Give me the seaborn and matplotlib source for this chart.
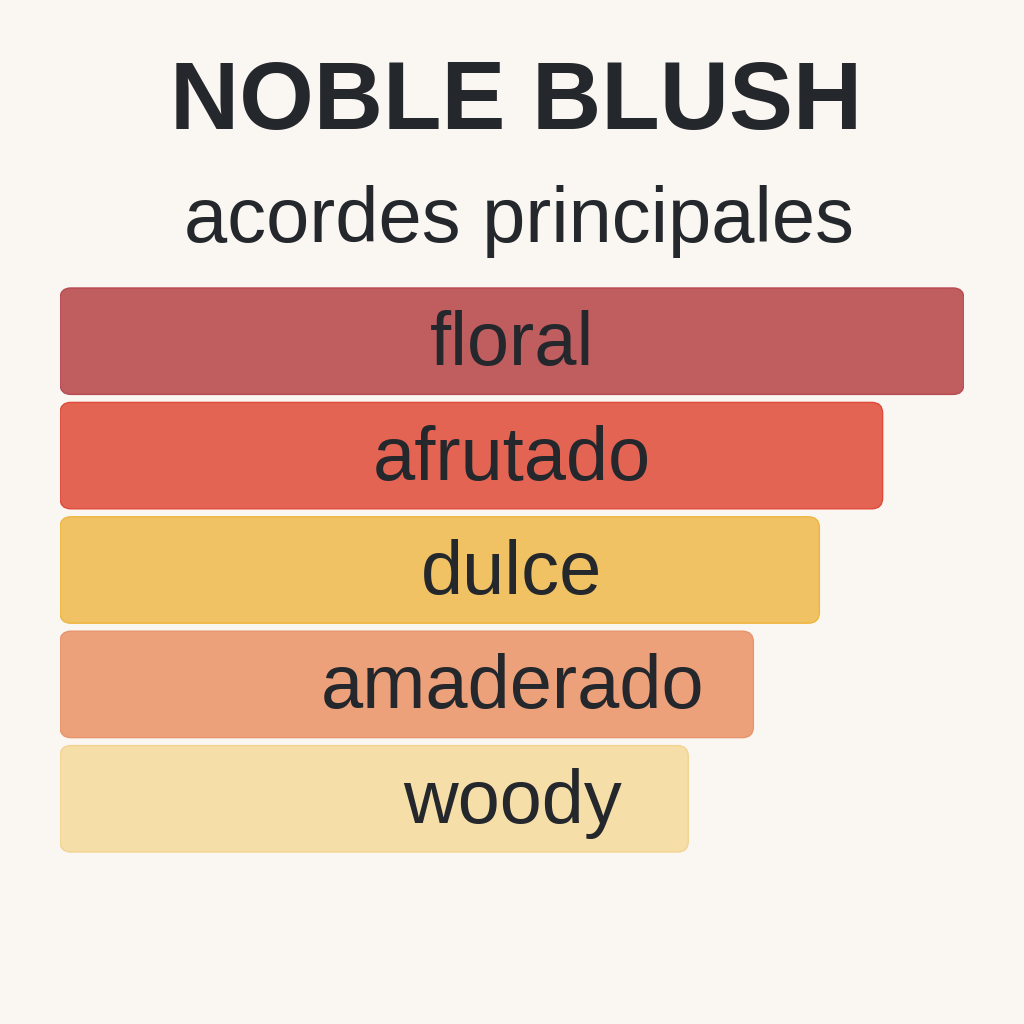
import matplotlib
matplotlib.use("Agg")
import matplotlib.pyplot as plt
import seaborn as sns
import pandas as pd
from matplotlib.patches import FancyBboxPatch

accords = ["floral", "afrutado", "dulce", "amaderado", "woody"]
strength = [100, 91, 84, 76.7, 69.5]
bar_colors = ["#BF5D5F", "#E36453", "#F0C264", "#EDA17B", "#F6DEA8"]
edge_colors = ["#B84A52", "#E04A3A", "#EEB63E", "#E8946A", "#F2D390"]

title = "NOBLE BLUSH"
subtitle = "acordes principales"

bg = "#FAF6F2"
ink = "#24272B"

sns.set_theme(style="white")
plt.rcParams["font.family"] = ["Liberation Sans", "DejaVu Sans"]

df = pd.DataFrame({"accord": accords, "strength": strength})

fig = plt.figure(figsize=(10.24, 10.24), dpi=100, facecolor=bg)
ax = fig.add_axes([60 / 1024, 1 - 856 / 1024, 904 / 1024, 572 / 1024])
ax.set_facecolor(bg)

sns.barplot(data=df, x="strength", y="accord", hue="accord", palette=bar_colors,
            legend=False, width=0.93, orient="h", ax=ax)

ax.set_xlim(0, 100)
ax.set_ylim(4.5, -0.5)

# swap the square bars for rounded ones of the same size
# 1 x unit ~ 9.04 px, 1 y unit ~ 114.4 px -> corner radius ~10 px
for patch, fc, ec in zip(list(ax.patches), bar_colors, edge_colors):
    x0, y0 = patch.get_x(), patch.get_y()
    w, h = patch.get_width(), patch.get_height()
    patch.remove()
    rounded = FancyBboxPatch((x0, y0), w, h,
                             boxstyle="round,pad=0,rounding_size=1.2",
                             mutation_aspect=0.079,
                             facecolor=fc, edgecolor=ec, linewidth=1.0)
    ax.add_patch(rounded)

mid = max(strength) / 2
for i, name in enumerate(accords):
    ax.text(mid, i + 0.21, name, ha="center", va="baseline",
            fontsize=54.5, color=ink)

ax.set_axis_off()

fig.text(0.5044, 1 - 129 / 1024, title, ha="center", va="baseline",
         fontsize=69, fontweight="bold", color=ink)
fig.text(0.5068, 1 - 242 / 1024, subtitle, ha="center", va="baseline",
         fontsize=56, color=ink)

fig.savefig("out.png", dpi=100, facecolor=bg)
